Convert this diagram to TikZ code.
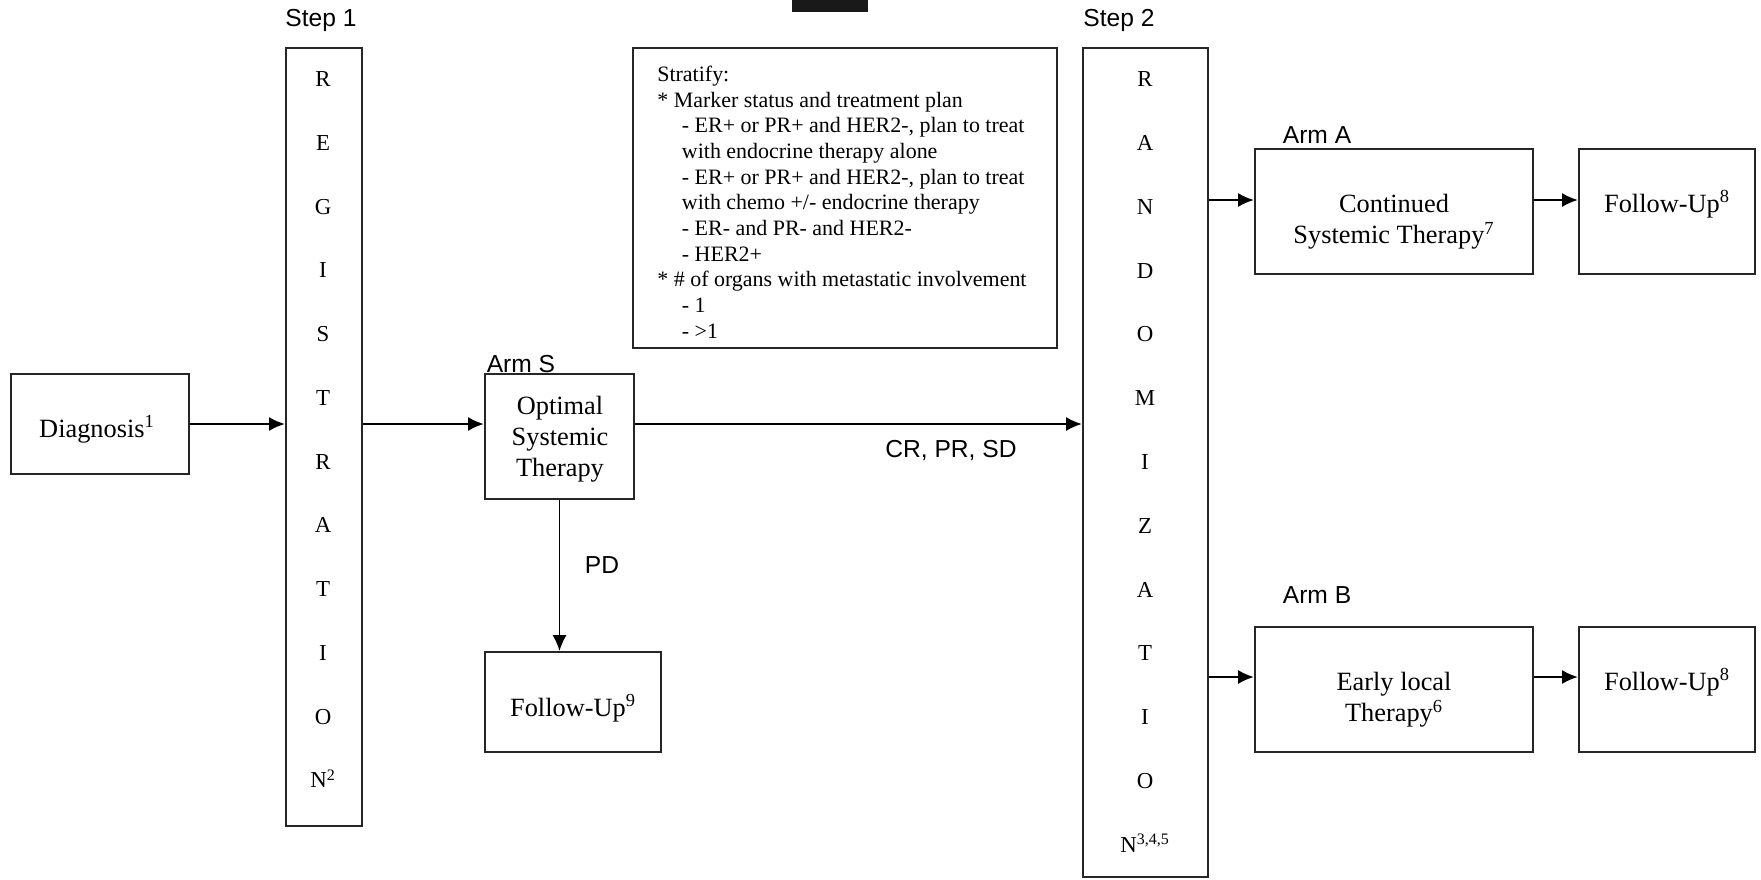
\documentclass[tikz,border=0pt]{standalone}
\usepackage{fontspec}
\setmainfont{Liberation Serif}
\newfontfamily\labelsans{Liberation Sans}
\usetikzlibrary{arrows.meta,fit,calc}

% stacked lines of text; the baseline is that of the first line
\newcommand\cstack[1]{\begin{tabular}[t]{@{}c@{}}#1\end{tabular}}
\newcommand\lstack[1]{\begin{tabular}[t]{@{}l@{}}#1\end{tabular}}
\newcommand\subind{\hspace*{14pt}}

\tikzset{
  frame/.style={draw=black!85, line width=1.2pt, inner sep=0pt},
  boxtext/.style={font=\fontsize{15}{17.9}\selectfont, inner sep=0pt, anchor=base},
  letter/.style={font=\fontsize{13}{15}\selectfont, inner sep=0pt, anchor=base},
  tag/.style={font=\labelsans\fontsize{14}{16}\selectfont, inner sep=0pt, anchor=base},
  flow/.style={line width=1.3pt, -{Latex[length=9pt,width=8pt]}},
}

\begin{document}
\begin{tikzpicture}[x=0.02cm, y=-0.02cm]
  \fill[white] (0,0) rectangle (1761,879);
  \useasboundingbox (0,0) rectangle (1761,879);

  % redaction bar at the top edge
  \fill[black!90] (792,0) rectangle (868,12);

  % boxes
  \node[frame, fit={(11,374) (189,474)}]    (diag)  {};
  \node[frame, fit={(286,48) (362,826)}]    (reg)   {};
  \node[frame, fit={(485,374) (634,499)}]   (ost)   {};
  \node[frame, fit={(485,652) (661,752)}]   (fu9)   {};
  \node[frame, fit={(633,48) (1057,348)}]   (strat) {};
  \node[frame, fit={(1083,48) (1208,877)}]  (rand)  {};
  \node[frame, fit={(1255,149) (1533,274)}] (armA)  {};
  \node[frame, fit={(1579,149) (1755,274)}] (fuA)   {};
  \node[frame, fit={(1255,627) (1533,752)}] (armB)  {};
  \node[frame, fit={(1579,627) (1755,752)}] (fuB)   {};

  % box texts
  \node[boxtext] (diagtxt) at (97,437)   {Diagnosis\textsuperscript{1}};
  \node[boxtext] (osttxt)  at (560,414)  {\cstack{Optimal\\Systemic\\Therapy}};
  \node[boxtext] (fu9txt)  at (573,716)  {Follow-Up\textsuperscript{9}};
  \node[boxtext] (armAtxt) at (1394,212) {\cstack{Continued\\Systemic Therapy\textsuperscript{7}}};
  \node[boxtext] (fuAtxt)  at (1667,212) {Follow-Up\textsuperscript{8}};
  \node[boxtext] (armBtxt) at (1394,690) {\cstack{Early local\\Therapy\textsuperscript{6}}};
  \node[boxtext] (fuBtxt)  at (1667,690) {Follow-Up\textsuperscript{8}};

  % vertical lettering
  \foreach \c [count=\i from 0] in {R,E,G,I,S,T,R,A,T,I,O,{N\textsuperscript{2}}}
    \node[letter] (reg\i) at (323, 86.6+63.75*\i) {\c};
  \foreach \c [count=\i from 0] in {R,A,N,D,O,M,I,Z,A,T,I,O,{N\textsuperscript{3,4,5}}}
    \node[letter] (rnd\i) at (1145, 86.6+63.8*\i) {\c};

  % stratification factors
  \node[font=\fontsize{12.5}{14.6}\selectfont, inner sep=0pt, anchor=base west] (strattxt) at (657,81.5)
    {\lstack{Stratify:\\
      \relax* Marker status and treatment plan\\
      \subind - ER+ or PR+ and HER2-, plan to treat\\
      \subind with endocrine therapy alone\\
      \subind - ER+ or PR+ and HER2-, plan to treat\\
      \subind with chemo +/- endocrine therapy\\
      \subind - ER- and PR- and HER2-\\
      \subind - HER2+\\
      \relax* \# of organs with metastatic involvement\\
      \subind - 1\\
      \subind - >1}};

  % labels
  \node[tag] (step1)   at (321,27)  {Step 1};
  \node[tag] (step2)   at (1119,27) {Step 2};
  \node[tag] (armSlab) at (521,372) {Arm S};
  \node[tag] (armAlab) at (1317,143) {Arm A};
  \node[tag] (armBlab) at (1317,603) {Arm B};
  \node[tag] (crlab)   at (951,457) {CR, PR, SD};
  \node[tag] (pdlab)   at (602,573) {PD};

  % connectors
  \coordinate (ymain) at (0,424);
  \coordinate (ya)    at (0,200);
  \coordinate (yb)    at (0,677);
  \draw[flow] (diag.east |- ymain) -- (reg.west |- ymain);
  \draw[flow] (reg.east |- ymain)  -- (ost.west |- ymain);
  \draw[flow] (ost.east |- ymain)  -- (rand.west |- ymain);
  \draw[flow, line width=0.9pt] (ost.south) -- (ost.south |- fu9.north);
  \draw[flow] (rand.east |- ya) -- (armA.west |- ya);
  \draw[flow] (armA.east |- ya) -- (fuA.west |- ya);
  \draw[flow] (rand.east |- yb) -- (armB.west |- yb);
  \draw[flow] (armB.east |- yb) -- (fuB.west |- yb);
\end{tikzpicture}
\end{document}
